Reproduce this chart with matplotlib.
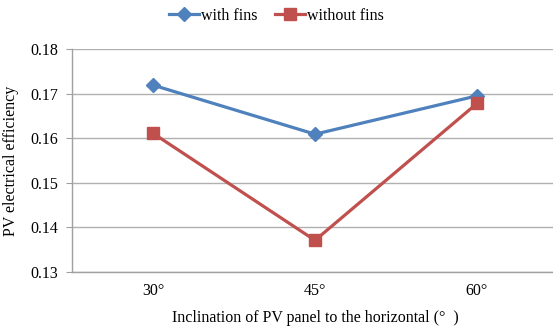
import matplotlib
matplotlib.use("Agg")
import matplotlib.pyplot as plt

categories = ["30°", "45°", "60°"]
with_fins = [0.1719, 0.1609, 0.1695]
without_fins = [0.1611, 0.1371, 0.1678]
yticks = [0.13, 0.14, 0.15, 0.16, 0.17, 0.18]

plt.rcParams['font.family'] = ['Liberation Serif', 'DejaVu Serif']

fig = plt.figure(figsize=(5.53, 3.26), dpi=100)
W, H = 553, 326
ax = fig.add_axes([72 / W, (H - 272) / H, 486 / W, (272 - 49) / H])

x = list(range(len(categories)))
ax.plot(x, with_fins, color='#4F81BD', lw=2.3, marker='D', ms=7,
        label='with fins', zorder=3)
ax.plot(x, without_fins, color='#C0504D', lw=2.3, marker='s', ms=9,
        label='without fins', zorder=3)

ax.set_xlim(-0.5, 2.5)
ax.set_ylim(0.13, 0.18)
ax.set_yticks(yticks)
ax.set_yticklabels([f"{t:.2f}" for t in yticks], fontsize=11.5)
ax.set_xticks(x)
ax.set_xticklabels(categories, fontsize=11.5)
ax.tick_params(axis='x', length=0, pad=8)
ax.tick_params(axis='y', length=4, color='#a0a0a0', pad=6)
ax.grid(axis='y', color='#b0b0b0', lw=1)
ax.set_axisbelow(True)
for s in ['top', 'right']:
    ax.spines[s].set_visible(False)
for s in ['left', 'bottom']:
    ax.spines[s].set_color('#a0a0a0')
    ax.spines[s].set_linewidth(1)

ax.set_xlabel('Inclination of PV panel to the horizontal (°  )', fontsize=11.5, labelpad=8)
ax.set_ylabel('PV electrical efficiency', fontsize=11.5, labelpad=8)

fig.legend(loc='upper center', bbox_to_anchor=(0.5, 1.02), ncol=2, frameon=False,
           fontsize=11.5, handlelength=1.9, columnspacing=1.1, handletextpad=0.1)

fig.savefig('out.png', dpi=100)
